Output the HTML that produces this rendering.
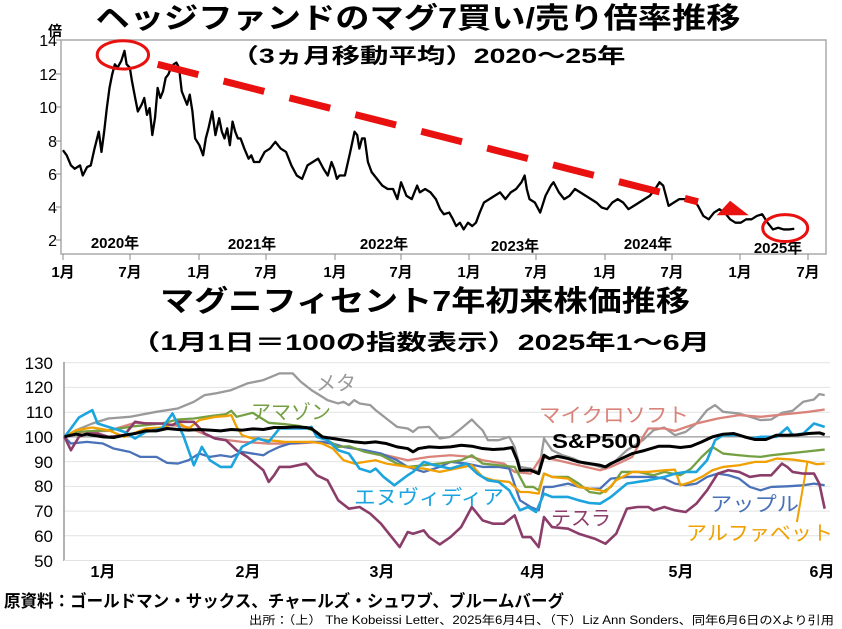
<!DOCTYPE html>
<html><head><meta charset="utf-8"><style>
html,body{margin:0;padding:0;background:#fff;width:842px;height:629px;overflow:hidden}
svg{display:block}
text{font-family:"Liberation Sans","Noto Sans CJK JP",sans-serif}
</style></head><body>
<svg width="842" height="629" viewBox="0 0 842 629" xmlns="http://www.w3.org/2000/svg">
<!-- TOP CHART -->
<text x="418" y="28" text-anchor="middle" font-size="29" font-weight="bold" textLength="645" lengthAdjust="spacingAndGlyphs">ヘッジファンドのマグ7買い/売り倍率推移</text>
<text x="428" y="63" text-anchor="middle" font-size="21" font-weight="bold" textLength="395" lengthAdjust="spacingAndGlyphs">（3ヵ月移動平均）2020～25年</text>
<rect x="61" y="40" width="765" height="214" fill="none" stroke="#aaa" stroke-width="1.5"/>
<g font-size="16" text-anchor="end">
<text x="57" y="46">14</text><text x="57" y="80">12</text><text x="57" y="113">10</text><text x="57" y="147">8</text><text x="57" y="180">6</text><text x="57" y="213">4</text><text x="57" y="246">2</text>
</g>
<text x="48" y="36" font-size="14" font-weight="bold">倍</text>
<g stroke="#888" stroke-width="1">
<line x1="56" y1="40" x2="61" y2="40"/><line x1="56" y1="74" x2="61" y2="74"/><line x1="56" y1="107" x2="61" y2="107"/><line x1="56" y1="141" x2="61" y2="141"/><line x1="56" y1="174" x2="61" y2="174"/><line x1="56" y1="207" x2="61" y2="207"/><line x1="56" y1="240" x2="61" y2="240"/>
<line x1="63" y1="254" x2="63" y2="260"/><line x1="130" y1="254" x2="130" y2="260"/><line x1="199" y1="254" x2="199" y2="260"/><line x1="266" y1="254" x2="266" y2="260"/><line x1="335" y1="254" x2="335" y2="260"/><line x1="401" y1="254" x2="401" y2="260"/><line x1="469" y1="254" x2="469" y2="260"/><line x1="536" y1="254" x2="536" y2="260"/><line x1="605" y1="254" x2="605" y2="260"/><line x1="672" y1="254" x2="672" y2="260"/><line x1="740" y1="254" x2="740" y2="260"/><line x1="808" y1="254" x2="808" y2="260"/>
</g>
<g font-size="15" font-weight="bold" text-anchor="middle">
<text x="63" y="277">1月</text><text x="130" y="277">7月</text><text x="199" y="277">1月</text><text x="266" y="277">7月</text><text x="335" y="277">1月</text><text x="401" y="277">7月</text><text x="469" y="277">1月</text><text x="536" y="277">7月</text><text x="605" y="277">1月</text><text x="672" y="277">7月</text><text x="740" y="277">1月</text><text x="808" y="277">7月</text>
</g>
<g font-size="15" font-weight="bold" text-anchor="middle">
<text x="115" y="248">2020年</text><text x="252" y="249">2021年</text><text x="384" y="249">2022年</text><text x="515" y="251">2023年</text><text x="648" y="249">2024年</text><text x="778" y="253">2025年</text>
</g>
<g transform="translate(2.5,-3.1) scale(0.535,0.337)">
<polyline fill="none" stroke="#000" stroke-width="2.3" vector-effect="non-scaling-stroke" stroke-linejoin="round" points="113,455 120,470 128,500 135,510 145,500 150,530 158,505 165,500 172,450 180,400 185,460 190,400 195,330 200,270 205,230 210,200 215,210 222,190 228,160 232,200 238,210 242,250 248,300 253,340 260,320 265,300 270,350 275,330 280,410 285,360 290,270 295,300 300,280 305,240 310,230 315,210 320,200 325,195 330,210 335,280 340,300 345,320 350,290 355,340 360,420 368,440 375,470 380,420 385,390 392,340 398,410 405,360 410,400 415,420 420,390 425,440 430,370 435,400 440,420 445,420 452,450 460,480 465,470 470,490 480,490 490,460 500,450 510,430 520,450 530,460 540,500 550,530 560,540 570,500 580,490 590,480 600,510 608,530 615,490 620,510 625,540 630,530 640,530 650,460 658,400 663,410 667,450 672,420 677,420 683,490 690,520 700,540 710,560 720,570 730,570 738,600 745,550 755,590 765,600 775,560 780,580 790,570 800,580 810,600 818,630 825,645 835,640 842,660 848,680 855,670 862,690 870,670 878,680 885,670 892,640 900,610 910,600 920,590 930,580 940,600 950,580 960,570 970,550 976,530 980,570 985,600 995,610 1005,640 1015,590 1025,560 1030,550 1040,580 1050,600 1060,590 1070,570 1080,580 1090,590 1100,600 1110,610 1120,625 1130,630 1140,610 1150,600 1160,610 1170,630 1180,620 1190,610 1200,600 1210,590 1220,570 1228,550 1235,560 1245,620 1255,610 1265,600 1275,600 1290,600 1300,620 1310,650 1320,660 1330,640 1340,630 1350,640 1360,660 1370,670 1380,670 1390,660 1400,660 1410,650 1420,645 1430,670 1440,690 1450,685 1460,690 1470,690 1480,688"/>
<line x1="290" y1="200" x2="1300" y2="608" stroke="#e8110f" stroke-width="7" vector-effect="non-scaling-stroke" stroke-dasharray="42 26"/>
<polygon points="1335,648 1395,648 1360,605" fill="#e8110f"/>
<ellipse cx="225" cy="172" rx="48" ry="42" fill="none" stroke="#e8110f" stroke-width="3" vector-effect="non-scaling-stroke"/>
<ellipse cx="1463" cy="686" rx="42" ry="40" fill="none" stroke="#e8110f" stroke-width="3" vector-effect="non-scaling-stroke"/>
</g>

<!-- BOTTOM CHART -->
<text x="425" y="311" text-anchor="middle" font-size="29" font-weight="bold" textLength="530" lengthAdjust="spacingAndGlyphs">マグニフィセント7年初来株価推移</text>
<text x="420" y="350" text-anchor="middle" font-size="22" font-weight="bold" textLength="580" lengthAdjust="spacingAndGlyphs">（1月1日＝100の指数表示）2025年1～6月</text>
<g stroke="#e2e2e2" stroke-width="1">
<line x1="63" y1="362.7" x2="830" y2="362.7"/><line x1="63" y1="387.4" x2="830" y2="387.4"/><line x1="63" y1="412.2" x2="830" y2="412.2"/><line x1="63" y1="461.6" x2="830" y2="461.6"/><line x1="63" y1="486.4" x2="830" y2="486.4"/><line x1="63" y1="511.1" x2="830" y2="511.1"/><line x1="63" y1="535.8" x2="830" y2="535.8"/>
</g>
<line x1="63" y1="436.9" x2="830" y2="436.9" stroke="#999" stroke-width="1.3"/>
<line x1="64" y1="362" x2="64" y2="561" stroke="#999" stroke-width="1.5"/>
<line x1="64" y1="560.5" x2="830" y2="560.5" stroke="#e2e2e2" stroke-width="1"/>
<g font-size="17" text-anchor="end">
<text x="53" y="369">130</text><text x="53" y="393">120</text><text x="53" y="418">110</text><text x="53" y="443">100</text><text x="53" y="468">90</text><text x="53" y="492">80</text><text x="53" y="517">70</text><text x="53" y="542">60</text><text x="53" y="567">50</text>
</g>
<g font-size="16" font-weight="bold" text-anchor="middle">
<text x="103" y="577">1月</text><text x="248" y="577">2月</text><text x="382" y="577">3月</text><text x="533" y="577">4月</text><text x="681" y="577">5月</text><text x="822" y="577">6月</text>
</g>
<g transform="translate(1.4,340) scale(0.5346,0.334)" fill="none" stroke-linejoin="round">
<polyline stroke="#9a9a9a" stroke-width="2.3" vector-effect="non-scaling-stroke" points="118,290 140,270 170,250 200,235 240,230 290,215 330,205 360,185 380,165 400,160 430,150 460,130 490,120 520,100 545,100 560,125 580,150 600,170 610,180 620,185 630,190 640,185 650,195 660,180 670,190 690,195 700,210 720,235 740,260 760,265 770,275 780,262 800,260 820,295 840,290 860,265 880,238 890,255 900,270 910,300 930,300 950,290 960,320 970,380 990,385 1005,395 1015,295 1030,330 1050,345 1070,355 1090,370 1110,375 1130,385 1150,360 1170,330 1200,300 1220,270 1240,262 1260,285 1280,275 1300,250 1320,210 1335,195 1350,215 1380,220 1400,230 1420,240 1440,238 1460,218 1480,212 1500,185 1520,178 1530,162 1540,165"/>
<polyline stroke="#d9837a" stroke-width="2.3" vector-effect="non-scaling-stroke" points="118,290 150,275 200,272 250,248 300,250 350,262 400,295 450,305 500,310 550,310 600,305 640,320 680,330 720,345 760,360 800,350 840,345 880,350 900,360 940,370 960,395 990,400 1010,350 1040,360 1080,375 1120,390 1140,380 1180,350 1200,290 1210,265 1240,265 1260,272 1300,250 1340,235 1380,225 1420,230 1450,225 1480,220 1510,215 1540,208"/>
<polyline stroke="#4a72b8" stroke-width="2.3" vector-effect="non-scaling-stroke" points="118,290 130,310 160,305 190,310 210,325 240,335 260,350 290,350 310,368 330,370 350,360 370,340 390,350 410,345 430,350 450,335 470,340 490,345 500,335 520,320 540,310 580,305 600,305 620,310 640,320 680,330 710,340 740,360 760,380 790,395 820,380 840,365 870,370 900,380 930,380 950,385 970,480 990,500 1005,510 1015,440 1030,440 1060,430 1080,440 1100,445 1120,445 1140,415 1170,410 1200,410 1220,410 1240,415 1260,430 1280,435 1300,430 1320,410 1340,400 1360,405 1380,415 1400,440 1420,450 1440,440 1470,438 1500,435 1520,430 1540,435"/>
<polyline stroke="#74a043" stroke-width="2.3" vector-effect="non-scaling-stroke" points="118,290 140,275 200,270 250,258 300,250 330,238 360,235 390,228 420,222 430,212 440,230 470,218 500,248 530,252 560,258 590,275 610,300 630,320 650,318 680,335 710,345 740,370 760,380 790,375 820,370 860,360 880,345 900,370 930,375 960,380 980,440 995,440 1005,450 1015,400 1030,410 1060,410 1080,430 1100,455 1120,460 1140,440 1160,395 1190,395 1220,405 1240,395 1270,405 1290,385 1310,350 1330,320 1350,340 1380,345 1400,348 1420,350 1440,345 1470,340 1500,335 1540,328"/>
<polyline stroke="#f0a000" stroke-width="2.3" vector-effect="non-scaling-stroke" points="118,290 140,270 170,262 200,270 230,290 270,265 300,262 330,248 350,265 370,240 400,230 420,228 430,225 440,260 450,285 470,295 500,300 530,305 560,305 580,305 600,310 620,325 640,360 660,370 680,365 700,360 720,370 740,375 760,380 790,385 820,395 850,385 880,375 900,410 920,420 950,425 970,455 985,455 1005,460 1015,400 1030,410 1060,415 1080,440 1100,445 1120,450 1130,455 1150,420 1180,395 1210,395 1240,390 1260,388 1270,435 1290,425 1310,410 1330,390 1350,380 1380,375 1410,365 1430,365 1450,355 1480,358 1510,365 1525,372 1540,370"/>
<line x1="1508" y1="362" x2="1488" y2="545" stroke="#f0a000" stroke-width="2" vector-effect="non-scaling-stroke"/>
<polyline stroke="#8b3d6a" stroke-width="2.6" vector-effect="non-scaling-stroke" points="118,290 130,330 145,290 160,280 180,280 200,290 230,285 250,245 270,250 300,250 320,255 330,245 360,245 380,280 400,295 420,300 440,330 460,350 490,390 500,425 510,405 520,380 540,380 570,370 590,405 610,420 630,480 650,505 670,500 690,520 710,550 730,590 745,620 760,575 770,580 790,570 800,590 820,612 840,590 860,560 880,500 900,540 920,550 940,550 960,525 975,590 990,590 1005,620 1015,530 1030,560 1060,565 1080,580 1110,595 1130,610 1150,580 1170,505 1190,500 1210,500 1220,510 1240,500 1260,510 1280,515 1300,490 1320,450 1340,400 1360,390 1380,395 1400,410 1420,405 1440,405 1460,370 1470,380 1480,395 1500,400 1520,400 1530,430 1540,505"/>
<polyline stroke="#1ba4dd" stroke-width="2.6" vector-effect="non-scaling-stroke" points="118,290 130,265 145,232 170,210 180,250 200,260 230,275 250,295 270,275 300,265 320,220 340,285 360,375 375,320 390,360 410,380 430,380 450,320 480,295 500,305 520,265 570,265 580,260 590,290 610,300 630,330 650,340 670,385 690,395 700,385 715,410 735,435 760,405 770,395 790,365 810,375 840,385 870,370 890,400 910,420 930,425 950,450 970,510 985,500 1000,515 1015,460 1030,470 1060,470 1080,480 1100,488 1120,490 1140,470 1170,430 1190,425 1210,420 1240,410 1260,400 1280,395 1300,395 1320,360 1335,300 1350,285 1380,285 1400,295 1420,290 1450,290 1470,262 1480,285 1500,280 1520,250 1540,260"/>
<polyline stroke="#000" stroke-width="3" vector-effect="non-scaling-stroke" points="118,290 130,285 140,282 150,285 160,282 170,285 190,290 210,292 230,285 250,280 270,272 290,272 310,265 330,268 350,270 370,268 390,270 410,272 430,268 450,270 470,266 490,268 510,262 530,262 550,260 570,262 580,265 600,290 620,295 640,300 660,305 680,308 700,305 720,310 740,320 760,325 770,335 780,325 800,320 820,322 840,320 860,315 880,318 900,325 920,328 940,326 955,322 965,360 970,390 990,390 1005,400 1015,345 1025,355 1040,348 1060,355 1080,365 1100,370 1120,375 1130,380 1140,370 1160,355 1180,340 1200,332 1215,325 1230,318 1250,318 1270,322 1290,318 1310,305 1330,290 1350,282 1370,280 1390,290 1410,298 1430,298 1450,285 1470,285 1490,284 1510,280 1530,278 1540,283"/>
</g>
<g font-size="20">
<text x="316" y="390" fill="#9a9a9a">メタ</text>
<text x="251" y="419" fill="#74a043">アマゾン</text>
<text x="539" y="422" fill="#d9837a" textLength="150" lengthAdjust="spacingAndGlyphs">マイクロソフト</text>
<text x="552" y="448" fill="#000" font-weight="bold" textLength="89" lengthAdjust="spacingAndGlyphs">S&amp;P500</text>
<text x="354" y="504" fill="#1ba4dd" textLength="150" lengthAdjust="spacingAndGlyphs">エヌヴィディア</text>
<text x="551" y="525" fill="#8b3d6a">テスラ</text>
<text x="710" y="511" fill="#4a72b8" textLength="89" lengthAdjust="spacingAndGlyphs">アップル</text>
<text x="686" y="540" fill="#f0a000" textLength="147" lengthAdjust="spacingAndGlyphs">アルファベット</text>
</g>
<text x="4" y="607" font-size="17" font-weight="bold" textLength="560" lengthAdjust="spacingAndGlyphs">原資料：ゴールドマン・サックス、チャールズ・シュワブ、ブルームバーグ</text>
<text x="834" y="624" font-size="11.5" text-anchor="end" textLength="585" lengthAdjust="spacingAndGlyphs">出所：（上） The Kobeissi Letter、2025年6月4日、（下）Liz Ann Sonders、同年6月6日のXより引用</text>
</svg>
</body></html>
